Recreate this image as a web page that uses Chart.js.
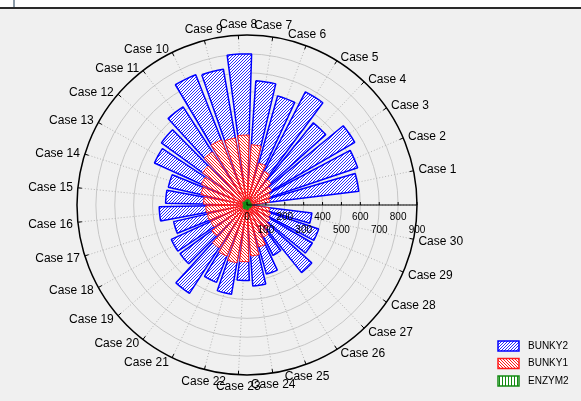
<!DOCTYPE html>
<html>
<head>
<meta charset="utf-8">
<script src="https://cdn.jsdelivr.net/npm/chart.js@4"></script>
<style>
  html, body { margin: 0; padding: 0; background: #f0f0f0; }
  #strip { height: 7px; background: #fff; border-bottom: 2px solid #2a2a2a; position: relative; }
  #strip i { position: absolute; left: 13px; top: 0; width: 2px; height: 7px; background: #8c9ba8; }
  #box { position: relative; width: 581px; height: 392px; }
</style>
</head>
<body>
<div id="strip"><i></i></div>
<div id="box"><canvas id="rose"></canvas></div>
<script>
var cases = ['Case 1', 'Case 2', 'Case 3', 'Case 4', 'Case 5', 'Case 6', 'Case 7', 'Case 8', 'Case 9', 'Case 10',
             'Case 11', 'Case 12', 'Case 13', 'Case 14', 'Case 15', 'Case 16', 'Case 17', 'Case 18', 'Case 19', 'Case 20',
             'Case 21', 'Case 22', 'Case 23', 'Case 24', 'Case 25', 'Case 26', 'Case 27', 'Case 28', 'Case 29', 'Case 30'];
var bunky2 = [596, 618, 660, 559, 674, 599, 659, 800, 730, 741,
              620, 560, 538, 427, 431, 465, 398, 440, 438, 558,
              440, 480, 400, 430, 380, 300, 460, 400, 400, 346];
var bunky1 = [120, 130, 150, 170, 200, 230, 320, 370, 360, 370,
              335, 290, 265, 250, 230, 218, 215, 210, 230, 270,
              290, 310, 300, 270, 230, 190, 160, 140, 130, 120];
var enzym2 = [25, 22, 20, 24, 26, 28, 30, 28, 25, 22,
              20, 24, 26, 22, 20, 18, 22, 24, 26, 25,
              22, 20, 24, 26, 22, 20, 18, 22, 24, 26];
var axisTicks = [0, 100, 200, 300, 400, 500, 600, 700, 800, 900];

// one empty slot sits on the axis (east); cases run counter-clockwise from it
var slot = 360 / (cases.length + 1);
var barAngle = slot * 0.8;
var gapAngle = slot - barAngle;
var slotLabels = [''].concat(cases.slice().reverse());

// chart.js goes clockwise, so interleave gap/bar from Case 30 back to Case 1
function spread(values) {
  var out = [0];
  for (var i = values.length - 1; i >= 0; i--) {
    out.push(values[i]);
    out.push(0);
  }
  return out;
}
function arcAngle(c) {
  var i = c.dataIndex;
  if (i === 0 || i === cases.length * 2) return slot / 2 + gapAngle / 2;
  return i % 2 ? barAngle : gapAngle;
}

function hatch(color, kind) {
  var t = document.createElement('canvas');
  t.width = t.height = 3;
  var g = t.getContext('2d');
  g.fillStyle = '#fff';
  g.fillRect(0, 0, 3, 3);
  g.fillStyle = color;
  for (var i = 0; i < 3; i++) {
    if (kind === '/') g.fillRect(2 - i, i, 1, 1);
    if (kind === '\\') g.fillRect(i, i, 1, 1);
    if (kind === '|') g.fillRect(1, i, 1, 1);
  }
  return g.createPattern(t, 'repeat');
}

var blueFill = hatch('#2a2aff', '/');
var redFill = hatch('#ff1a1a', '\\');
var greenFill = hatch('#138a13', '|');

function edge(w) {
  return function (c) { return c.dataIndex % 2 ? w : 0; };
}

var roseExtras = {
  id: 'roseExtras',
  afterDraw: function (chart) {
    var r = chart.scales.r;
    var g = chart.ctx;
    var cx = r.xCenter, cy = r.yCenter, R = r.drawingArea;
    g.save();

    // small ticks on the outer circle at each case spoke
    g.strokeStyle = '#000';
    g.lineWidth = 1;
    for (var i = 1; i < slotLabels.length; i++) {
      var a = r.getPointPosition(i, R);
      var b = r.getPointPosition(i, R - 4);
      g.beginPath();
      g.moveTo(a.x, a.y);
      g.lineTo(b.x, b.y);
      g.stroke();
    }

    // case labels
    g.font = '12px "Liberation Sans", Arial, sans-serif';
    g.fillStyle = '#000';
    g.textBaseline = 'middle';
    for (var k = 1; k < slotLabels.length; k++) {
      var p = r.getPointPosition(k, R + 3);
      var co = Math.cos(p.angle), si = Math.sin(p.angle);
      var x = p.x, y = p.y;
      if (Math.abs(co) < 0.4) {
        g.textAlign = 'center';
        y += si > 0 ? 9 : -8;
      } else {
        g.textAlign = co > 0 ? 'left' : 'right';
        x += co > 0 ? 2 : -2;
        y += si > 0 ? 2 : 0;
      }
      g.fillText(slotLabels[k], x, y);
    }

    // radial axis along the east spoke
    g.lineWidth = 1.2;
    g.beginPath();
    g.moveTo(cx, cy);
    g.lineTo(cx + R, cy);
    g.stroke();
    g.lineWidth = 1;
    g.font = '10px "Liberation Sans", Arial, sans-serif';
    g.textAlign = 'center';
    axisTicks.forEach(function (v, j) {
      var x = cx + r.getDistanceFromCenterForValue(v);
      g.beginPath();
      g.moveTo(x, cy);
      g.lineTo(x, cy - 3);
      g.stroke();
      g.fillText(String(v), x, cy + (j % 2 ? 25 : 12));
    });

    // legend, bottom right
    var lx = chart.width - 83, ly = chart.height - 55;
    g.font = '10px "Liberation Sans", Arial, sans-serif';
    g.textAlign = 'left';
    chart.data.datasets.forEach(function (ds, n) {
      var y = ly + n * 17.5;
      g.fillStyle = ds.backgroundColor;
      g.fillRect(lx, y - 5, 21, 10);
      g.strokeStyle = ds.borderColor;
      g.lineWidth = 1.5;
      g.strokeRect(lx, y - 5, 21, 10);
      g.fillStyle = '#000';
      g.fillText(ds.label, lx + 30, y);
    });
    g.restore();
  }
};

new Chart(document.getElementById('rose'), {
  type: 'polarArea',
  data: {
    labels: slotLabels,
    datasets: [
      { label: 'BUNKY2', data: spread(bunky2), backgroundColor: blueFill, borderColor: '#0000ff', borderWidth: edge(1.5), angle: arcAngle, order: 3 },
      { label: 'BUNKY1', data: spread(bunky1), backgroundColor: redFill, borderColor: '#ff1a1a', borderWidth: edge(1), angle: arcAngle, order: 2 },
      { label: 'ENZYM2', data: spread(enzym2), backgroundColor: greenFill, borderColor: '#138a13', borderWidth: edge(1), angle: arcAngle, order: 1 }
    ]
  },
  options: {
    responsive: true,
    maintainAspectRatio: false,
    animation: false,
    layout: { padding: { top: 26, bottom: 26, left: 0, right: 87 } },
    plugins: { legend: { display: false }, tooltip: { enabled: false } },
    scales: {
      r: {
        min: 0,
        max: 900,
        startAngle: 90,
        ticks: { display: false, stepSize: 100 },
        grid: {
          circular: true,
          color: function (c) { return c.tick.value === 900 ? '#000' : '#c6c6c6'; },
          lineWidth: function (c) { return c.tick.value === 900 ? 1.5 : 1; }
        },
        angleLines: { display: true, color: '#b4b4b4', borderDash: [1, 2], lineWidth: 1 },
        pointLabels: { display: false }
      }
    }
  },
  plugins: [roseExtras]
});
</script>
</body>
</html>
